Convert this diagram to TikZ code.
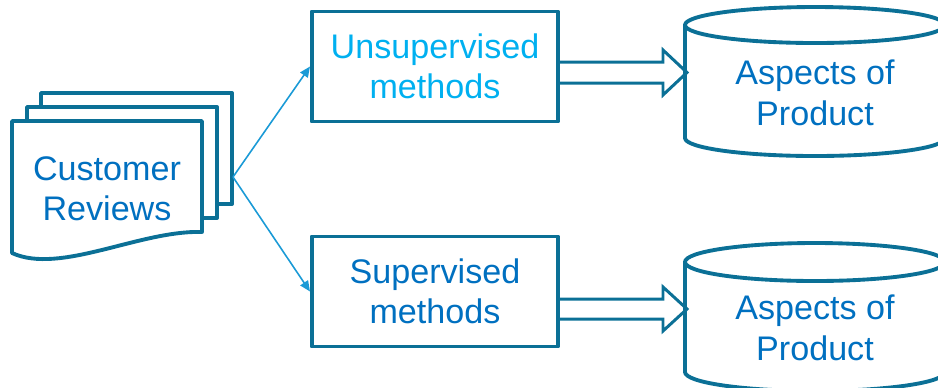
\documentclass[tikz,border=0pt]{standalone}
\usepackage{fontspec}
\setmainfont{Liberation Sans}
\usetikzlibrary{arrows.meta}
\definecolor{rimblue}{HTML}{0B7096}
\definecolor{txtblue}{HTML}{0070C0}
\definecolor{skyblue}{HTML}{00B0F0}
\definecolor{linkblue}{HTML}{1A9AD6}

\begin{document}
\begin{tikzpicture}[x=0.01cm,y=-0.01cm,
  rim/.style={draw=rimblue,line width=1.1pt,line join=round},
  label/.style={text=txtblue,font=\fontsize{9.7}{11.5}\selectfont,align=center},
  methodbox/.style={rim,minimum width=2.46cm,minimum height=1.1cm,inner sep=0pt},
  link/.style={linkblue,line width=0.45pt,-{Triangle[length=3pt,width=2.6pt]}},
  hollow/.style={draw=rimblue,line width=0.85pt}]
\useasboundingbox (0,0) rectangle (938,387);
\clip (0,0) rectangle (938,387);
% stack of reviews
\filldraw[rim,fill=white] (41,93) rectangle (232,204);
\filldraw[rim,fill=white] (27,107) rectangle (217,218);
\filldraw[rim,fill=white] (12,121) -- (202,121) -- (202,232) .. controls (140,230) and (60,275) .. (12,253) -- cycle;
\node[label] (reviews) at (107,189) {Customer\\Reviews};
\coordinate (fan) at (233,177);
% methods
\node[methodbox,label,text=skyblue] (unsup) at (435,66.5) {Unsupervised\\methods};
\node[methodbox,label] (sup) at (435,291.5) {Supervised\\methods};
\draw[link] (fan) -- (unsup.west);
\draw[link] (fan) -- (sup.west);
% aspects
\draw[rim] (815,25) ellipse [x radius=130,y radius=18];
\draw[rim] (685,25) -- (685,138) arc[start angle=180,end angle=0,x radius=130,y radius=18] -- (945,25);
\node[label] (aspA) at (815,93) {Aspects of\\Product};
\coordinate (tipA) at (687,72.5);
\draw[rim] (815,262) ellipse [x radius=130,y radius=19];
\draw[rim] (685,262) -- (685,372) arc[start angle=180,end angle=0,x radius=130,y radius=19] -- (945,262);
\node[label] (aspB) at (815,328) {Aspects of\\Product};
\coordinate (tipB) at (687,309);
\draw[hollow] (unsup.east |- 0,62) -- (663,62) -- (663,50) -- (tipA) -- (663,95) -- (663,83) -- (unsup.east |- 0,83);
\draw[hollow] (sup.east |- 0,299) -- (663,299) -- (663,287) -- (tipB) -- (663,331) -- (663,319) -- (sup.east |- 0,319);
\end{tikzpicture}
\end{document}
